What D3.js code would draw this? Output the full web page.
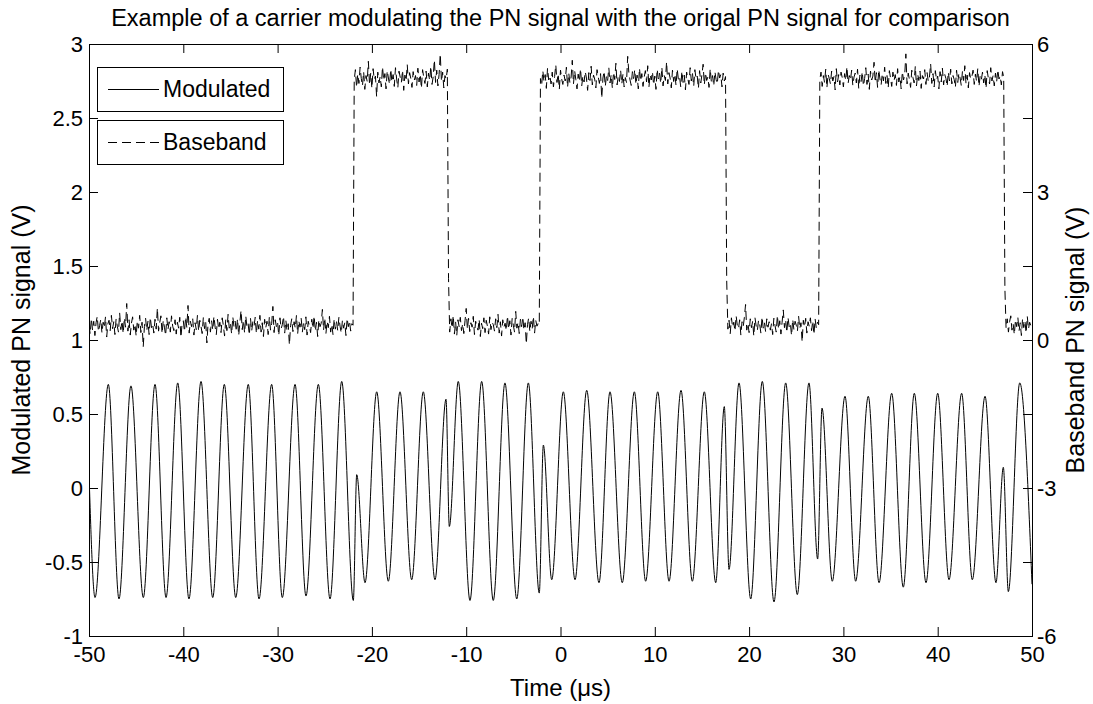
<!DOCTYPE html>
<html>
<head>
<meta charset="utf-8">
<script src="https://cdn.jsdelivr.net/npm/d3@7"></script>
<style>
  body { margin: 0; background: #fff; }
  text { font-family: "Liberation Sans", Arial, sans-serif; fill: #000; }
</style>
</head>
<body>
<div id="chart"></div>
<script>
const width = 1093;
const height = 704;

// axis ticks
const xTicks = [-50, -40, -30, -20, -10, 0, 10, 20, 30, 40, 50];
const leftTicks = [-1, -0.5, 0, 0.5, 1, 1.5, 2, 2.5, 3];
const rightTicks = [-6, -4.5, -3, -1.5, 0, 1.5, 3, 4.5, 6];
const rightLabels = [-6, -3, 0, 3, 6];

// modulated carrier: peaks / troughs (time in µs, volts)
const carrierTimes = [-50, -49.36, -47.95, -46.82, -45.55, -44.24, -43.0, -41.83, -40.59, -39.40,
  -38.12, -36.88, -35.65, -34.44, -33.11, -31.97, -30.63, -29.50, -28.15, -26.99,
  -25.68, -24.44, -23.20, -21.97, -21.61, -20.73, -19.49, -18.26, -17.02, -15.78,
  -14.55, -13.31, -12.14, -11.79, -10.84, -9.60, -8.36, -7.13, -5.89, -4.64,
  -3.41, -2.25, -1.82, -0.93, 0.30, 1.54, 2.78, 4.08, 5.25, 6.55,
  7.83, 9.03, 10.31, 11.51, 12.78, 13.98, 15.25, 16.46, 17.37, 17.87,
  18.93, 20.17, 21.40, 22.64, 23.88, 25.11, 26.35, 27.27, 27.73, 28.82,
  30.17, 31.30, 32.64, 33.78, 35.12, 36.35, 37.52, 38.76, 40.0, 41.20,
  42.54, 43.67, 45.02, 46.18, 46.96, 47.49, 48.70, 50.0];
const carrierValues = [0.10, -0.74, 0.70, -0.75, 0.69, -0.74, 0.70, -0.74, 0.71, -0.75,
  0.72, -0.74, 0.70, -0.74, 0.70, -0.75, 0.70, -0.74, 0.70, -0.73,
  0.70, -0.75, 0.72, -0.76, 0.09, -0.64, 0.65, -0.63, 0.65, -0.62,
  0.65, -0.62, 0.60, -0.26, 0.72, -0.76, 0.72, -0.76, 0.71, -0.75,
  0.71, -0.71, 0.29, -0.62, 0.65, -0.62, 0.66, -0.64, 0.65, -0.64,
  0.65, -0.63, 0.65, -0.63, 0.66, -0.63, 0.65, -0.64, 0.55, -0.55,
  0.71, -0.75, 0.72, -0.77, 0.71, -0.72, 0.71, -0.48, 0.54, -0.63,
  0.62, -0.63, 0.62, -0.64, 0.64, -0.67, 0.64, -0.64, 0.64, -0.62,
  0.64, -0.62, 0.62, -0.64, 0.14, -0.70, 0.71, -0.65];

// baseband PN samples (right axis, volts), one every 0.125 µs from -50 µs
const bbStart = -50;
const bbStep = 0.125;
const bbLow1 = [0.31,0.12,0.44,0.20,0.38,0.09,0.35,0.48,0.17,0.29,
  0.42,0.14,0.36,0.25,0.47,0.06,0.33,0.40,0.19,0.50,
  0.23,0.37,0.11,0.43,0.28,0.16,0.55,0.21,0.39,0.13,
  0.45,0.26,0.74,0.18,0.41,0.10,0.34,0.47,0.20,0.32,
  0.08,0.39,0.24,0.50,0.15,0.36,-0.14,0.27,0.44,0.19,
  0.38,0.11,0.46,0.25,0.33,0.14,0.42,0.22,0.65,0.18,
  0.35,0.49,0.13,0.40,0.26,0.09,0.45,0.21,0.37,0.16,
  0.49,0.28,0.19,0.41,0.12,0.36,0.24,0.46,0.05,0.34,
  0.39,0.17,0.47,0.25,0.70,0.14,0.38,0.27,0.43,0.10,
  0.35,0.21,0.50,0.18,0.40,0.28,0.13,0.46,0.23,0.37,
  -0.06,0.33,0.44,0.16,0.39,0.20,0.48,0.26,0.11,0.42,
  0.22,0.36,0.15,0.45,0.29,0.08,0.41,0.19,0.52,0.24,
  0.34,0.12,0.47,0.27,0.38,0.17,0.43,0.09,0.36,0.60,
  0.21,0.40,0.14,0.49,0.26,0.33,0.10,0.44,0.18,0.37,
  0.28,0.46,0.13,0.39,0.22,0.50,0.16,0.35,0.07,0.42,
  0.25,0.38,0.11,0.47,0.20,0.34,0.68,0.15,0.41,0.27,
  0.36,0.09,0.45,0.23,0.31,0.48,0.14,0.40,0.19,0.33,
  -0.10,0.29,0.43,0.17,0.37,0.24,0.50,0.12,0.39,0.26,
  0.44,0.16,0.35,0.21,0.47,0.10,0.38,0.28,0.15,0.42,
  0.23,0.49,0.18,0.36,0.07,0.41,0.27,0.34,0.62,0.20,
  0.45,0.13,0.38,0.25,0.48,0.16,0.32,0.11,0.43,0.22,
  0.37,0.19,0.46,0.28,0.14,0.40,0.24,0.35,0.09,0.44,
  0.27,0.39,0.18,0.33,0.30];
const bbHigh1 = [5.27,5.48,5.12,5.39,5.20,5.53,5.30,5.15,5.44,5.08,
  5.36,5.24,5.65,5.17,5.41,5.10,5.50,5.28,5.35,4.93,
  5.43,5.21,5.34,5.13,5.54,5.26,5.40,5.09,5.46,5.31,
  5.18,5.49,5.23,5.38,5.14,5.52,5.29,5.11,5.45,5.33,
  5.22,5.47,5.06,5.37,5.25,5.58,5.19,5.42,5.30,5.12,
  5.44,5.27,5.36,5.16,5.51,5.23,5.39,5.10,5.48,5.32,
  5.20,5.45,5.13,5.41,5.26,5.55,5.18,5.34,5.68,5.22,
  5.47,5.15,5.38,5.80,5.24,5.43,5.11,5.36,5.29,5.49];
const bbLow2 = [1.25,0.16,0.43,0.24,0.50,0.12,0.37,0.09,0.41,0.27,
  0.46,0.19,0.33,0.13,0.39,0.64,0.22,0.44,0.17,0.35,
  0.26,0.48,0.11,0.38,0.29,0.20,0.42,0.07,0.34,0.23,
  0.45,0.15,0.40,0.28,0.12,0.47,0.21,0.36,0.31,0.18,
  0.43,0.25,0.52,0.14,0.37,0.08,0.41,0.26,0.34,0.19,
  0.49,0.22,0.39,0.10,0.44,0.30,0.16,0.58,0.24,0.36,
  0.13,0.42,0.27,0.47,0.20,0.35,-0.08,0.31,0.45,0.17,
  0.38,0.23,0.48,0.14,0.40,0.28,0.33,0.30];
const bbHigh2 = [5.30,5.16,5.46,5.24,5.38,5.10,5.51,5.27,5.36,5.19,
  5.43,5.13,5.34,5.58,5.22,5.40,5.08,5.47,5.29,5.18,
  5.37,5.25,5.53,5.12,5.41,5.21,5.33,5.67,5.19,5.46,
  5.28,5.09,5.39,5.24,5.50,5.15,5.35,5.23,5.44,5.31,
  5.06,5.42,5.26,5.55,5.17,5.37,5.29,5.11,5.48,5.34,
  5.20,5.40,4.90,5.31,5.45,5.14,5.36,5.26,5.52,5.21,
  5.38,5.10,5.43,5.28,5.61,5.17,5.35,5.24,5.47,5.19,
  5.39,5.13,5.32,5.22,5.75,5.41,5.27,5.16,5.44,5.30,
  5.48,5.18,5.37,5.09,5.51,5.25,5.40,5.14,5.33,5.46,
  5.23,5.56,5.12,5.38,5.27,5.44,5.17,5.35,5.08,5.49,
  5.29,5.41,5.20,5.53,5.15,5.36,5.26,5.64,5.19,5.42,
  5.31,5.11,5.47,5.24,5.39,5.16,5.50,5.28,5.34,5.13,
  5.45,5.22,5.37,5.07,5.43,5.30,5.18,5.52,5.25,5.40,
  5.14,5.48,5.29,5.35,5.10,5.46,5.21,5.38,5.59,5.17,
  5.42,5.26,5.33,5.12,5.50,5.23,5.36,5.15,5.44,5.28,
  5.19,5.47,5.31,5.38,5.13,5.41,5.25,5.34];
const bbLow3 = [1.20,0.22,0.40,0.13,0.45,0.26,0.36,0.18,0.49,0.29,
  0.23,0.41,0.10,0.37,0.27,0.46,0.72,0.20,0.34,0.15,
  0.43,0.25,0.38,0.08,0.45,0.28,0.19,0.40,0.32,0.14,
  0.47,0.24,0.35,0.17,0.43,0.26,0.37,0.20,0.33,0.11,
  0.44,0.29,0.16,0.50,0.22,0.39,0.12,0.36,0.61,0.25,
  0.41,0.15,0.46,0.27,0.34,0.09,0.42,0.21,0.38,0.30,
  0.18,0.48,0.23,0.35,-0.04,0.40,0.26,0.44,0.14,0.37,
  0.28,0.45,0.19,0.39,0.11,0.43,0.24,0.36,0.31];
const bbHigh3 = [5.28,5.43,5.14,5.36,5.22,5.49,5.11,5.39,5.30,5.19,
  5.45,5.25,5.34,5.07,5.50,5.23,5.38,5.17,5.43,5.32,
  5.13,5.40,5.26,5.54,5.20,5.36,5.27,5.47,5.16,5.33,
  5.41,5.21,5.49,5.10,5.37,5.24,5.44,5.15,5.30,5.52,
  5.18,5.39,5.08,5.45,5.27,5.35,5.63,5.22,5.42,5.12,
  5.48,5.29,5.17,5.40,5.25,5.53,5.20,5.36,5.11,5.46,
  5.31,5.14,5.43,5.26,5.38,5.16,5.50,5.23,5.34,5.09,
  5.44,5.27,5.37,5.80,5.19,5.41,5.28,5.12,5.47,5.32,
  5.21,5.55,5.15,5.39,5.26,5.45,5.10,5.36,5.29,5.48,
  5.18,5.42,5.24,5.33,5.60,5.20,5.40,5.13,5.46,5.27,
  5.35,5.09,5.44,5.23,5.51,5.17,5.38,5.30,5.14,5.43,
  5.25,5.49,5.19,5.36,5.28,5.12,5.47,5.22,5.41,5.31,
  5.16,5.45,5.26,5.56,5.20,5.37,5.11,5.42,5.29,5.34,
  5.47,5.18,5.39,5.24,5.50,5.14,5.35,5.27,5.43,5.21,
  5.38,5.10,5.46,5.30,5.19,5.52,5.25,5.36,5.15,5.41,
  5.23,5.48,5.29,5.35,5.17,5.44,5.32];
const bbLow4 = [1.05,0.24,0.43,0.16,0.37,0.49,0.20,0.33,0.11,0.41,
  0.27,0.46,0.18,0.35,0.09,0.44,0.25,0.39,0.14,0.48,
  0.22,0.36,0.29,0.31];

const plot = {left: 89, right: 1032, top: 44, bottom: 636};

const svg = d3.select("#chart")
              .append("svg")
              .attr("width", width)
              .attr("height", height);

svg.append("rect").attr("width", width).attr("height", height).attr("fill", "#fff");

const x = d3.scaleLinear().domain([-50, 50]).range([plot.left, plot.right]);
const yL = d3.scaleLinear().domain([-1, 3]).range([plot.bottom, plot.top]);
const yR = d3.scaleLinear().domain([-6, 6]).range([plot.bottom, plot.top]);

svg.append("clipPath").attr("id", "clip")
   .append("rect")
   .attr("x", plot.left).attr("y", plot.top)
   .attr("width", plot.right - plot.left).attr("height", plot.bottom - plot.top);

// carrier
const carrier = carrierTimes.map((t, i) => [t, carrierValues[i]]);
svg.append("path")
   .datum(carrier)
   .attr("clip-path", "url(#clip)")
   .attr("fill", "none")
   .attr("stroke", "#000")
   .attr("stroke-width", 1)
   .attr("d", d3.line().x(d => x(d[0])).y(d => yL(d[1])).curve(d3.curveMonotoneX));

// baseband
const bbValues = [].concat(bbLow1, bbHigh1, bbLow2, bbHigh2, bbLow3, bbHigh3, bbLow4);
const baseband = bbValues.map((v, i) => [bbStart + i * bbStep, v]);
svg.append("path")
   .datum(baseband)
   .attr("clip-path", "url(#clip)")
   .attr("fill", "none")
   .attr("stroke", "#000")
   .attr("stroke-width", 1)
   .attr("stroke-dasharray", "9,5")
   .attr("d", d3.line().x(d => x(d[0])).y(d => yR(d[1])));

// axes
const fmt = d => String(d);
const tickFont = "22px";

const gBottom = svg.append("g")
   .attr("transform", `translate(0,${plot.bottom})`)
   .call(d3.axisBottom(x).tickValues(xTicks).tickSize(-9).tickSizeOuter(0).tickPadding(10).tickFormat(fmt));
const gTop = svg.append("g")
   .attr("transform", `translate(0,${plot.top})`)
   .call(d3.axisTop(x).tickValues(xTicks).tickSize(-9).tickSizeOuter(0).tickFormat(""));
const gLeft = svg.append("g")
   .attr("transform", `translate(${plot.left},0)`)
   .call(d3.axisLeft(yL).tickValues(leftTicks).tickSize(-9).tickSizeOuter(0).tickPadding(6).tickFormat(fmt));
const gRight = svg.append("g")
   .attr("transform", `translate(${plot.right},0)`)
   .call(d3.axisRight(yR).tickValues(rightTicks).tickSize(-9).tickSizeOuter(0).tickPadding(5)
         .tickFormat(d => rightLabels.includes(d) ? fmt(d) : ""));

[gBottom, gTop, gLeft, gRight].forEach(g => {
  g.select(".domain").remove();
  g.selectAll("line").attr("stroke", "#000");
  g.selectAll("text").attr("font-family", null).style("font-size", tickFont).attr("fill", "#000");
});
gLeft.selectAll("text").attr("dy", "0.36em");
gRight.selectAll("text").attr("dy", "0.36em");

// box
svg.append("rect")
   .attr("x", plot.left + 0.5).attr("y", plot.top + 0.5)
   .attr("width", plot.right - plot.left).attr("height", plot.bottom - plot.top)
   .attr("fill", "none").attr("stroke", "#000").attr("stroke-width", 1);

// title and labels
svg.append("text")
   .attr("x", (plot.left + plot.right) / 2).attr("y", 26)
   .attr("text-anchor", "middle").style("font-size", "23.5px")
   .text("Example of a carrier modulating the PN signal with the origal PN signal for comparison");

svg.append("text")
   .attr("x", (plot.left + plot.right) / 2).attr("y", 696)
   .attr("text-anchor", "middle").style("font-size", "24px")
   .text("Time (μs)");

svg.append("text")
   .attr("transform", `translate(30,${(plot.top + plot.bottom) / 2}) rotate(-90)`)
   .attr("text-anchor", "middle").style("font-size", "25px")
   .text("Modulated PN signal (V)");

svg.append("text")
   .attr("transform", `translate(1084,${(plot.top + plot.bottom) / 2}) rotate(-90)`)
   .attr("text-anchor", "middle").style("font-size", "25px")
   .text("Baseband PN signal (V)");

// legend
const legendItems = [
  {label: "Modulated", dash: null, y: 67},
  {label: "Baseband", dash: "9,5", y: 120}
];
const legend = svg.append("g");
legendItems.forEach(item => {
  const g = legend.append("g").attr("transform", `translate(97,${item.y})`);
  g.append("rect")
   .attr("x", 0.5).attr("y", 0.5).attr("width", 186).attr("height", 44)
   .attr("fill", "#fff").attr("stroke", "#000");
  g.append("line")
   .attr("x1", 11).attr("x2", 62).attr("y1", 22.5).attr("y2", 22.5)
   .attr("stroke", "#000").attr("stroke-dasharray", item.dash);
  g.append("text")
   .attr("x", 66).attr("y", 22).attr("dy", "0.36em")
   .style("font-size", "23px")
   .text(item.label);
});
</script>
</body>
</html>
